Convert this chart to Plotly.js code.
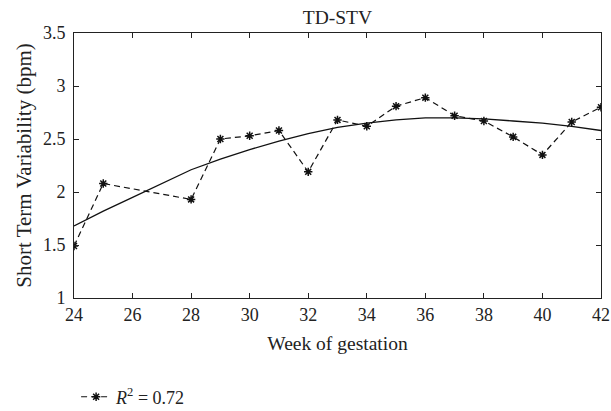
<!DOCTYPE html>
<html>
<head>
<meta charset="utf-8">
<script src="https://cdn.plot.ly/plotly-3.0.1.min.js"></script>
<style>html,body{margin:0;padding:0;background:#fff;}#chart{width:611px;height:411px;}</style>
</head>
<body>
<div id="chart"></div>
<script>
const weeks = [24, 25, 28, 29, 30, 31, 32, 33, 34, 35, 36, 37, 38, 39, 40, 41, 42];
const stv = [1.49, 2.08, 1.93, 2.50, 2.53, 2.58, 2.19, 2.68, 2.62, 2.81, 2.89, 2.72, 2.67, 2.52, 2.35, 2.66, 2.80];
const fitWeeks = [24, 25, 26, 27, 28, 29, 30, 31, 32, 33, 34, 35, 36, 37, 38, 39, 40, 41, 42];
const fitValues = [1.68, 1.82, 1.95, 2.08, 2.21, 2.31, 2.40, 2.48, 2.55, 2.61, 2.65, 2.68, 2.70, 2.70, 2.69, 2.67, 2.65, 2.62, 2.58];
const xTicks = [24, 26, 28, 30, 32, 34, 36, 38, 40, 42];
const yTicks = [1, 1.5, 2, 2.5, 3, 3.5];
const legendLabel = '<i>R</i><sup>2</sup> = 0.72';

const fam = 'Liberation Serif, DejaVu Serif, serif';
const tickFont = {family: fam, size: 18, color: '#222'};
const titleFont = {family: fam, size: 19.5, color: '#222'};
const yTitleFont = {family: fam, size: 21, color: '#222'};

const traces = [
  {
    x: fitWeeks, y: fitValues, type: 'scatter', mode: 'lines',
    line: {color: '#111', width: 1.3}, showlegend: false, hoverinfo: 'skip'
  },
  {
    x: weeks, y: stv, type: 'scatter', mode: 'lines+markers', name: legendLabel,
    line: {color: '#111', width: 1.2, dash: '6px,4px'},
    marker: {symbol: 'asterisk-open', size: 7, color: '#111', line: {color: '#111', width: 1.5}}
  }
];

const axisCommon = {
  showgrid: false, zeroline: false, showline: true, mirror: 'ticks',
  linecolor: '#222', linewidth: 1, ticks: 'inside', ticklen: 5, tickcolor: '#222',
  tickfont: tickFont, automargin: false
};

const layout = {
  width: 611, height: 411,
  margin: {l: 74, r: 10, t: 33, b: 113},
  paper_bgcolor: '#fff', plot_bgcolor: '#fff',
  font: tickFont,
  title: {text: 'TD-STV', font: titleFont, x: 0.5523, xanchor: 'center', y: 0.9586, yanchor: 'middle', automargin: false},
  xaxis: Object.assign({}, axisCommon, {
    range: [24, 42], tickvals: xTicks, ticktext: xTicks.map(String),
    title: {text: 'Week of gestation', font: titleFont, standoff: 12}
  }),
  yaxis: Object.assign({}, axisCommon, {
    range: [1, 3.5], tickvals: yTicks, ticktext: yTicks.map(String),
    ticklabelstandoff: 4,
    title: {text: 'Short Term Variability (bpm)', font: yTitleFont, standoff: 5}
  }),
  showlegend: true,
  legend: {x: 0.004, xref: 'paper', y: 0.034, yref: 'container', xanchor: 'left', yanchor: 'middle', font: tickFont, bgcolor: 'rgba(0,0,0,0)'}
};

Plotly.newPlot('chart', traces, layout, {displayModeBar: false, staticPlot: true});
</script>
</body>
</html>
